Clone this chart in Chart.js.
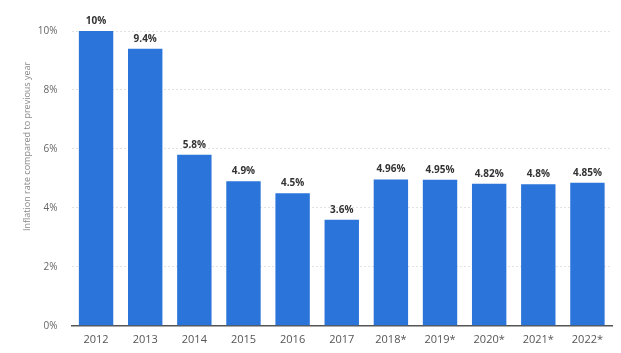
<!DOCTYPE html>
<html>
<head>
<meta charset="utf-8">
<script src="https://cdn.jsdelivr.net/npm/chart.js@4"></script>
<style>
  html, body { margin: 0; padding: 0; background: #fff; }
  #wrap { width: 621px; height: 353px; position: relative; }
</style>
</head>
<body>
<div id="wrap"><canvas id="chart"></canvas></div>
<script>
const years = ["2012", "2013", "2014", "2015", "2016", "2017", "2018*", "2019*", "2020*", "2021*", "2022*"]
const inflation = [10, 9.4, 5.8, 4.9, 4.5, 3.6, 4.96, 4.95, 4.82, 4.8, 4.85]
const valueLabels = ["10%", "9.4%", "5.8%", "4.9%", "4.5%", "3.6%", "4.96%", "4.95%", "4.82%", "4.8%", "4.85%"]
const yTicks = [0, 2, 4, 6, 8, 10]
const yTitle = "Inflation rate compared to previous year"

// draws the value above each bar, plus the axis title (sits above centre in the original)
const barLabels = {
  id: "barLabels",
  afterDatasetsDraw(chart) {
    const ctx = chart.ctx
    const meta = chart.getDatasetMeta(0)
    ctx.save()
    ctx.font = "bold 10px 'Open Sans', sans-serif"
    ctx.fillStyle = "#333"
    ctx.textAlign = "center"
    ctx.textBaseline = "bottom"
    meta.data.forEach((bar, i) => {
      ctx.fillText(valueLabels[i], bar.x, bar.y - 5)
    })

    const y = chart.scales.y
    ctx.font = "9px 'Open Sans', sans-serif"
    ctx.fillStyle = "#888"
    ctx.textBaseline = "middle"
    ctx.translate(y.left + 6, (y.top + y.bottom) / 2 - 32)
    ctx.rotate(-Math.PI / 2)
    ctx.fillText(yTitle, 0, 0)
    ctx.restore()
  }
}

new Chart(document.getElementById("chart"), {
  type: "bar",
  data: {
    labels: years,
    datasets: [{
      data: inflation,
      backgroundColor: "#2a74da",
      barPercentage: 0.7,
      categoryPercentage: 1
    }]
  },
  options: {
    responsive: true,
    maintainAspectRatio: false,
    animation: false,
    layout: { padding: { top: 31, left: 21, right: 9, bottom: 0 } },
    plugins: {
      legend: { display: false },
      tooltip: { enabled: false }
    },
    scales: {
      x: {
        grid: { display: false, drawTicks: false },
        border: { color: "#555", width: 1.5 },
        ticks: { color: "#555", font: { size: 11, family: "'Open Sans', sans-serif" }, padding: 7 }
      },
      y: {
        min: 0,
        max: 10,
        afterBuildTicks(axis) { axis.ticks = yTicks.map(v => ({ value: v })) },
        border: { display: false, dash: [2, 2] },
        grid: { color: "#e2e2e2", drawTicks: false },
        ticks: {
          color: "#666",
          padding: 14,
          font: { size: 10, family: "'Open Sans', sans-serif" },
          callback: v => v + "%"
        },
        title: {
          display: true,
          text: yTitle,
          color: "rgba(0,0,0,0)",
          font: { size: 9, family: "'Open Sans', sans-serif" },
          padding: { top: 0, bottom: -8 }
        }
      }
    }
  },
  plugins: [barLabels]
})
</script>
</body>
</html>
